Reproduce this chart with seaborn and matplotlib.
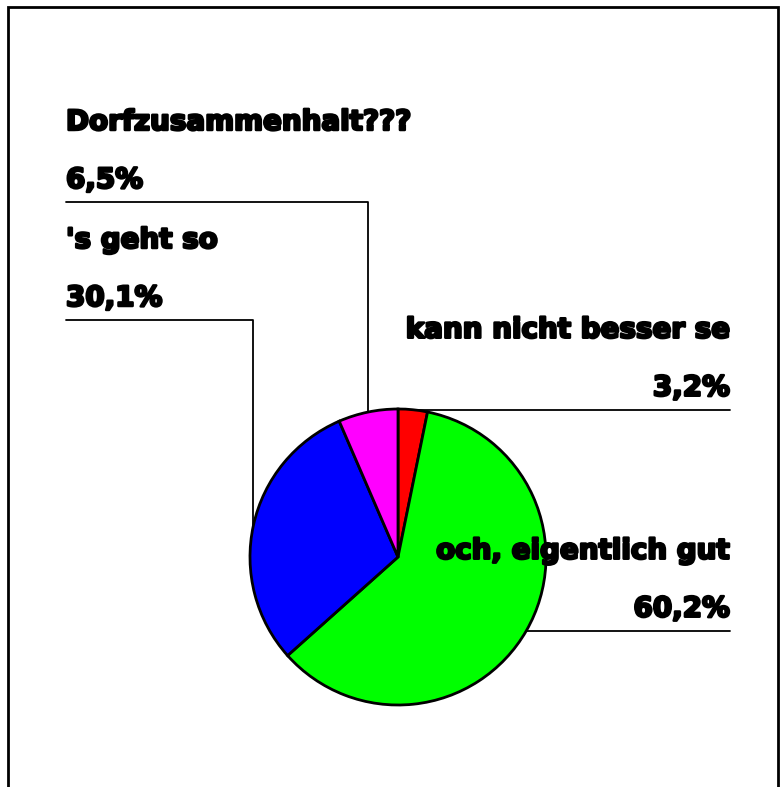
import numpy as np
import matplotlib
matplotlib.use('Agg')
from matplotlib import pyplot as plt
import matplotlib.patheffects as pe
import seaborn as sns

# Data
labels = ['kann nicht besser se', 'och, eigentlich gut', "'s geht so",
          'Dorfzusammenhalt???']
shares = [3.2, 60.2, 30.1, 6.5]
pct_text = ['3,2%', '60,2%', '30,1%', '6,5%']
colors = ['#ff0000', '#00ff00', '#0000ff', '#ff00ff']

sns.set_theme(style='white')
plt.rcParams['font.family'] = ['DejaVu Sans']

W, H = 782, 787
fig = plt.figure(figsize=(W / 100, H / 100), dpi=100)
ax = fig.add_axes([0, 0, 1, 1])

# frame round the chart (bottom edge runs out of the picture)
ax.plot([8, 8, 778, 778], [-5, H - 7, H - 7, -5], color='black', lw=2,
        solid_joinstyle='miter')

cx, cy, r = 398, H - 557, 148
wedges, _ = ax.pie(shares, colors=colors, startangle=90, counterclock=False,
                   center=(cx, cy), radius=r, frame=True,
                   wedgeprops=dict(edgecolor='black', linewidth=2, zorder=3))
ax.set_xlim(0, W)
ax.set_ylim(0, H)
ax.set_aspect('equal')
ax.axis('off')

# leader lines end points and text side
left_x, right_x = 66, 730
top_y = {2: H - 320, 3: H - 202}
font = dict(fontsize=20, fontweight='bold', color='black', zorder=5,
            path_effects=[pe.withStroke(linewidth=1.8, foreground='black')])
for i, w in enumerate(wedges):
    a = np.deg2rad((w.theta1 + w.theta2) / 2)
    px, py = cx + r * np.cos(a), cy + r * np.sin(a)
    if i < 2:
        ly = py
        ax.plot([px, right_x], [ly, ly], color='black', lw=1.3, zorder=1)
        ax.text(right_x, ly + 14, pct_text[i], ha='right', va='baseline', **font)
        ax.text(right_x, ly + 72, labels[i], ha='right', va='baseline', **font)
    else:
        ly = top_y[i]
        ax.plot([px, px, left_x], [py, ly, ly], color='black', lw=1.3, zorder=1)
        ax.text(left_x, ly + 14, pct_text[i], ha='left', va='baseline', **font)
        ax.text(left_x, ly + 72, labels[i], ha='left', va='baseline', **font)

fig.savefig('out.png', dpi=100, facecolor='white')
